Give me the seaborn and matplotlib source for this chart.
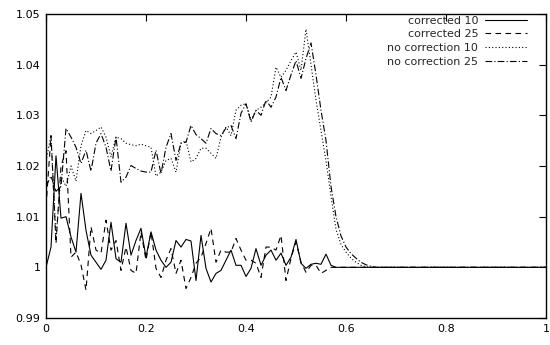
import numpy as np
import pandas as pd
import matplotlib
matplotlib.use("Agg")
import matplotlib.pyplot as plt
import seaborn as sns

# -------- DATA (step 0.01 in x) --------
x_grid = np.round(np.arange(101) * 0.01, 2)

corrected_10 = [
    1.000, 1.004, 1.022, 1.0097, 1.010, 1.006, 1.003, 1.0146, 1.0073, 1.0024,
    1.001, 0.9996, 1.0014, 1.0089, 1.0017, 1.001, 1.0087, 1.0024, 1.0053, 1.0077,
    1.002, 1.007, 1.0034, 1.0014, 1.000, 1.001, 1.0053, 1.004, 1.0055, 1.0052,
    0.9974, 1.0063, 0.9998, 0.9971, 0.9988, 0.9994, 1.0014, 1.0034, 1.0004, 1.0004,
    0.9982, 0.9998, 1.0037, 1.0004, 1.0024, 1.0034, 1.0014, 1.0028, 1.0004, 1.002,
    1.0055, 1.0008, 0.9998, 1.0006, 1.0008, 1.0006, 1.0026, 1.0004, 1.000,
]
corrected_25 = [
    1.012, 1.026, 1.0047, 1.020, 1.023, 1.002, 1.003, 1.0005, 0.9955, 1.008,
    1.0034, 1.0028, 1.0093, 1.0034, 1.0053, 0.9994, 1.004, 0.9994, 0.9988, 1.007,
    1.0014, 1.007, 0.9998, 0.998, 1.0014, 1.0037, 0.9988, 1.0014, 0.9958, 0.998,
    1.0008, 1.002, 1.0047, 1.0077, 1.001, 1.0034, 1.003, 1.003, 1.0057, 1.0034,
    1.0014, 1.0014, 1.0008, 0.998, 1.004, 1.004, 1.0034, 1.0063, 0.9974, 1.0018,
    1.005, 1.001, 0.999, 1.0004, 1.0004, 0.9988, 0.9994, 1.000, 1.000,
]
no_correction_10 = [
    1.021, 1.026, 1.006, 1.018, 1.016, 1.020, 1.017, 1.024, 1.027, 1.0264,
    1.027, 1.0277, 1.0257, 1.0218, 1.0257, 1.0254, 1.0245, 1.0242, 1.024, 1.0243,
    1.024, 1.0237, 1.018, 1.0188, 1.0211, 1.0215, 1.0188, 1.0245, 1.025, 1.0208,
    1.0215, 1.0235, 1.0235, 1.0225, 1.0215, 1.0257, 1.0277, 1.026, 1.031, 1.032,
    1.0323, 1.029, 1.031, 1.0316, 1.0325, 1.0336, 1.0395, 1.0375, 1.0389, 1.0408,
    1.0425, 1.0389, 1.047, 1.040, 1.033, 1.027, 1.021, 1.014, 1.0075, 1.0045,
    1.003, 1.0018, 1.001, 1.0004, 1.0001, 1.000,
]
no_correction_25 = [
    1.016, 1.018, 1.015, 1.016, 1.0274, 1.0257, 1.0237, 1.0205, 1.0231, 1.019,
    1.0245, 1.0264, 1.0237, 1.019, 1.0257, 1.0168, 1.0178, 1.0201, 1.0195, 1.019,
    1.0188, 1.0188, 1.0231, 1.0185, 1.0237, 1.0264, 1.0211, 1.0245, 1.0247, 1.028,
    1.0262, 1.0254, 1.0245, 1.0274, 1.0264, 1.026, 1.0275, 1.028, 1.0254, 1.0304,
    1.0323, 1.0287, 1.031, 1.03, 1.033, 1.0316, 1.0336, 1.0375, 1.0349, 1.038,
    1.0408, 1.0373, 1.0412, 1.0443, 1.038, 1.031, 1.025, 1.016, 1.010, 1.0062,
    1.004, 1.0027, 1.0018, 1.001, 1.0005, 1.0002, 1.000,
]

labels = ["corrected 10", "corrected 25", "no correction 10", "no correction 25"]
x_ticks = [0, 0.2, 0.4, 0.6, 0.8, 1]
x_ticklabels = ["0", "0.2", "0.4", "0.6", "0.8", "1"]
y_ticks = [0.99, 1.0, 1.01, 1.02, 1.03, 1.04, 1.05]
y_ticklabels = ["0.99", "1", "1.01", "1.02", "1.03", "1.04", "1.05"]


def pad(vals):
    # flat at 1 after the front has passed
    return vals + [1.0] * (len(x_grid) - len(vals))


series = [corrected_10, corrected_25, no_correction_10, no_correction_25]
styles = ["-", (0, (5, 4)), (0, (1, 2)), (0, (6, 2, 1, 2))]

# -------- VISUALIZATION --------
sns.set_theme(style="white")
plt.rcParams["font.family"] = ["DejaVu Sans"]

fig = plt.figure(figsize=(5.5, 3.45), dpi=100)
ax = fig.add_axes([46 / 550, 27 / 345, 500 / 550, 304 / 345])

for vals, lab, ls in zip(series, labels, styles):
    sns.lineplot(x=x_grid, y=pad(vals), ax=ax, color="black", linewidth=0.8,
                 linestyle=ls, label=lab, estimator=None, sort=False)

ax.set_xlim(0, 1)
ax.set_ylim(0.99, 1.05)
ax.set_xticks(x_ticks)
ax.set_xticklabels(x_ticklabels)
ax.set_yticks(y_ticks)
ax.set_yticklabels(y_ticklabels)
ax.tick_params(direction="in", length=5, width=0.8, top=True, right=True,
               labelsize=8, colors="black", pad=4)
for sp in ax.spines.values():
    sp.set_color("black")
    sp.set_linewidth(1.0)

ax.legend(loc="upper right", frameon=False, markerfirst=False, fontsize=8,
          handlelength=3.8, handletextpad=0.6, labelspacing=0.33,
          borderaxespad=0.3, bbox_to_anchor=(0.978, 1.02))

fig.savefig("out.png", dpi=100)
